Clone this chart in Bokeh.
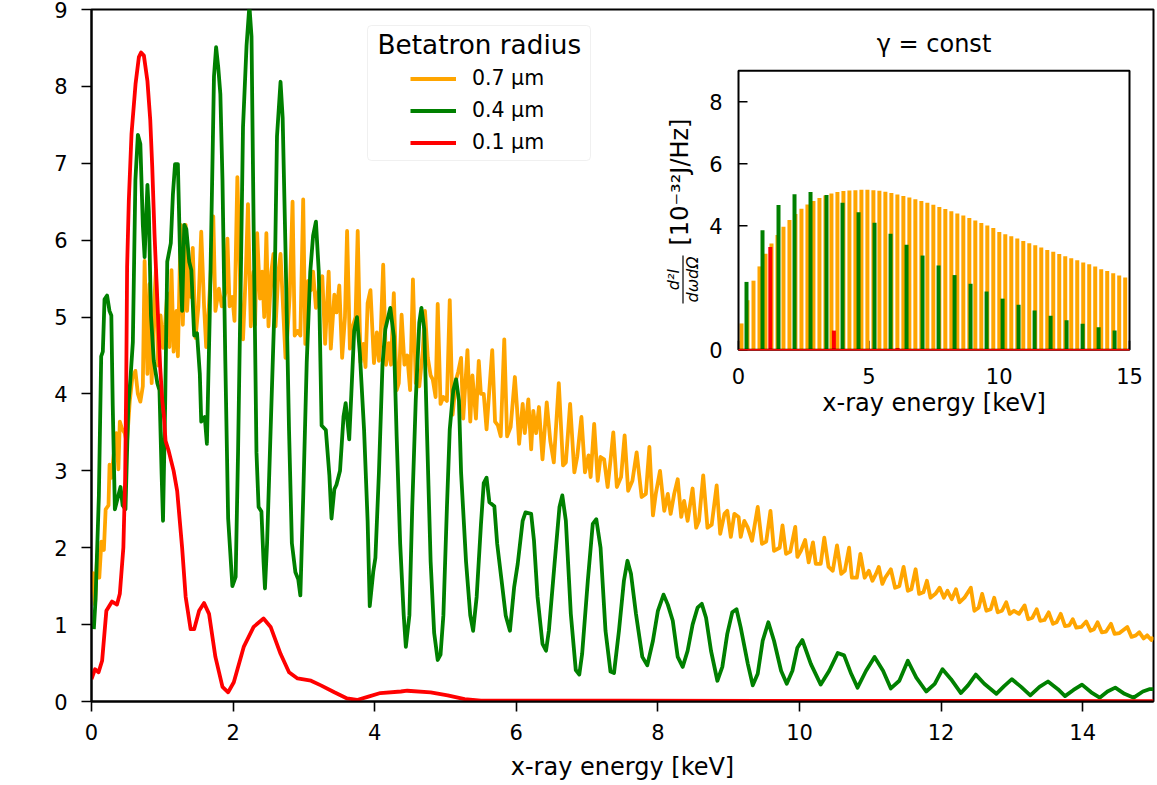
from math import pi
from bokeh.plotting import figure
from bokeh.models import (Range1d, FixedTicker, Label, Legend, LegendItem,
                          BoxAnnotation, Arrow)
from bokeh.core.properties import value
from bokeh.embed import file_html
from bokeh.resources import INLINE

# ---------------- data ----------------
X_TICKS = [0, 2, 4, 6, 8, 10, 12, 14]
Y_TICKS = [0, 1, 2, 3, 4, 5, 6, 7, 8, 9]
INSET_X_TICKS = [0, 5, 10, 15]
INSET_Y_TICKS = [0, 4, 6, 8]
LEGEND_LABELS = ["0.7 µm", "0.4 µm", "0.1 µm"]

ORANGE_E = [0.00, 0.02, 0.05, 0.08, 0.11, 0.14, 0.175, 0.20, 0.24, 0.255, 0.28, 0.32, 0.35, 0.38, 0.40,
            0.43, 0.47, 0.50, 0.54, 0.575, 0.62, 0.655, 0.69, 0.725, 0.75, 0.79, 0.82, 0.85, 0.88, 0.91,
            0.94, 0.976, 1.01, 1.04, 1.07, 1.10, 1.13, 1.16, 1.20, 1.22, 1.26, 1.29, 1.33, 1.35, 1.39,
            1.41, 1.43, 1.47, 1.51, 1.55, 1.59, 1.62, 1.65, 1.68, 1.72, 1.75, 1.80, 1.84, 1.89, 1.92,
            1.95, 1.99, 2.02, 2.06, 2.11, 2.14, 2.18, 2.21, 2.25, 2.29, 2.31, 2.34, 2.38, 2.41, 2.44,
            2.47, 2.50, 2.54, 2.57, 2.60, 2.64, 2.67, 2.70, 2.74, 2.77, 2.80, 2.84, 2.87, 2.91, 2.95,
            2.99, 3.02, 3.06, 3.10, 3.13, 3.17, 3.21, 3.26, 3.30, 3.35, 3.38, 3.43, 3.46, 3.50, 3.54,
            3.58, 3.61, 3.65, 3.69, 3.73, 3.76, 3.80, 3.84, 3.87, 3.90, 3.94, 3.99, 4.03, 4.06, 4.08,
            4.12, 4.16, 4.20, 4.23, 4.27, 4.31, 4.34, 4.38, 4.42, 4.46, 4.50, 4.54, 4.58, 4.63, 4.68,
            4.71, 4.75, 4.79, 4.82, 4.86, 4.89, 4.93, 4.97, 5.02, 5.06, 5.10, 5.15, 5.18, 5.22, 5.25,
            5.31, 5.35, 5.38, 5.43, 5.47, 5.50, 5.54, 5.58, 5.63, 5.66, 5.70, 5.74, 5.78, 5.83, 5.87,
            5.92, 5.98, 6.01, 6.04, 6.09, 6.12, 6.17, 6.21, 6.24, 6.28, 6.32, 6.37, 6.43, 6.48, 6.53,
            6.60, 6.66, 6.70, 6.76, 6.82, 6.86, 6.92, 6.97, 7.02, 7.05, 7.10, 7.15, 7.19, 7.24, 7.29,
            7.33, 7.37, 7.42, 7.48, 7.53, 7.58, 7.64, 7.70, 7.77, 7.83, 7.88, 7.93, 7.97, 8.03, 8.09,
            8.14, 8.18, 8.23, 8.28, 8.33, 8.37, 8.42, 8.49, 8.54, 8.58, 8.64, 8.70, 8.76, 8.83, 8.88,
            8.94, 8.98, 9.03, 9.08, 9.14, 9.17, 9.22, 9.27, 9.33, 9.41, 9.47, 9.53, 9.59, 9.64, 9.72,
            9.76, 9.81, 9.87, 9.94, 9.97, 10.02, 10.08, 10.13, 10.19, 10.23, 10.30, 10.35, 10.41, 10.47,
            10.53, 10.59, 10.64, 10.70, 10.74, 10.81, 10.86, 10.92, 10.98, 11.03, 11.08, 11.12, 11.17,
            11.21, 11.29, 11.35, 11.41, 11.47, 11.53, 11.58, 11.64, 11.69, 11.75, 11.80, 11.85, 11.92,
            11.98, 12.04, 12.09, 12.15, 12.21, 12.26, 12.33, 12.42, 12.47, 12.53, 12.58, 12.64, 12.70,
            12.75, 12.80, 12.86, 12.92, 12.97, 13.03, 13.10, 13.18, 13.23, 13.29, 13.35, 13.40, 13.46,
            13.52, 13.58, 13.63, 13.69, 13.75, 13.81, 13.86, 13.91, 13.98, 14.05, 14.11, 14.16, 14.21,
            14.27, 14.33, 14.40, 14.45, 14.52, 14.63, 14.69, 14.75, 14.80, 14.86, 14.91, 14.97, 15.00]
ORANGE_V = [1.55, 1.67, 1.26, 1.91, 1.61, 2.08, 1.97, 2.50, 2.55, 3.08, 2.91, 3.26, 3.49, 3.02, 3.64,
            3.55, 3.49, 3.35, 3.90, 4.20, 4.30, 4.00, 3.90, 4.10, 5.73, 4.26, 5.43, 4.14, 5.08, 5.61,
            4.37, 5.02, 4.60, 4.90, 5.31, 4.61, 5.61, 4.55, 5.08, 4.49, 6.20, 4.90, 6.20, 5.08, 5.73,
            5.26, 5.90, 4.73, 5.14, 6.11, 5.14, 4.61, 5.02, 5.49, 6.31, 5.08, 5.37, 5.14, 5.31, 6.02,
            5.14, 5.26, 4.95, 6.82, 5.06, 4.71, 5.59, 6.47, 4.88, 5.59, 4.90, 6.09, 5.24, 5.59, 5.00,
            6.09, 4.88, 5.59, 5.82, 4.88, 5.59, 5.82, 5.24, 4.47, 4.82, 5.29, 6.50, 4.76, 4.82, 4.76,
            6.53, 4.65, 5.47, 5.35, 5.59, 5.12, 5.35, 5.53, 4.65, 5.59, 4.59, 5.29, 5.06, 5.41, 4.47,
            5.00, 6.12, 4.59, 4.88, 5.00, 6.12, 4.41, 4.65, 4.35, 5.18, 5.35, 4.40, 4.80, 4.43, 4.66,
            5.68, 4.38, 4.66, 4.38, 5.31, 4.05, 4.14, 5.03, 4.38, 4.50, 4.05, 5.49, 4.14, 4.10, 4.57,
            5.08, 4.47, 4.24, 4.19, 3.96, 5.17, 3.87, 3.96, 3.91, 5.22, 3.73, 4.19, 4.29, 4.47, 3.68,
            4.57, 3.64, 4.24, 3.68, 4.43, 4.00, 4.00, 3.54, 4.19, 4.57, 3.64, 3.59, 3.45, 4.71, 3.45,
            3.57, 4.22, 3.82, 3.35, 3.87, 3.49, 3.93, 3.28, 3.78, 3.49, 3.83, 3.15, 3.89, 3.39, 3.11,
            4.14, 3.07, 3.11, 3.87, 2.98, 3.18, 3.70, 2.98, 3.20, 2.92, 3.61, 2.87, 3.18, 3.15, 2.79,
            3.13, 3.50, 2.79, 2.92, 3.46, 2.74, 2.87, 3.24, 2.66, 2.70, 3.31, 2.42, 2.70, 3.00, 2.48,
            2.70, 2.44, 2.70, 2.89, 2.40, 2.61, 2.35, 2.77, 2.26, 2.35, 2.94, 2.26, 2.30, 2.81, 2.18,
            2.44, 2.48, 2.14, 2.44, 2.40, 2.14, 2.35, 2.26, 2.09, 2.53, 2.05, 2.08, 2.48, 1.96, 2.00,
            2.29, 1.92, 1.95, 2.27, 1.88, 1.96, 2.10, 1.81, 2.07, 1.79, 1.79, 2.13, 1.75, 1.70,
            2.03, 1.66, 1.70, 2.00, 1.61, 1.61, 1.92, 1.61, 1.70, 1.57, 1.66, 1.75, 1.53,
            1.61, 1.72, 1.48, 1.50, 1.75, 1.44, 1.46, 1.72, 1.40, 1.42, 1.57, 1.35, 1.40,
            1.48, 1.35, 1.44, 1.33, 1.46, 1.29, 1.35, 1.48, 1.18, 1.22, 1.40, 1.18, 1.20,
            1.35, 1.16, 1.18, 1.29, 1.14, 1.18, 1.14, 1.25, 1.07, 1.09, 1.20, 1.05, 1.06,
            1.16, 1.01, 1.03, 1.14, 0.98, 0.99, 1.07, 0.96, 0.97, 1.04, 0.92, 0.94, 1.03,
            0.90, 0.91, 1.01, 0.88, 0.89, 0.97, 0.84, 0.86, 0.90, 0.82, 0.86, 0.80, 0.84]

GREEN_E = [0.033, 0.057, 0.104, 0.137, 0.16, 0.184, 0.22, 0.254, 0.28, 0.30, 0.33, 0.36, 0.41, 0.44, 0.48,
           0.52, 0.55, 0.584, 0.62, 0.655, 0.69, 0.725, 0.75, 0.79, 0.81, 0.84, 0.88, 0.93, 0.96, 0.99,
           1.01, 1.04, 1.07, 1.12, 1.15, 1.18, 1.22, 1.25, 1.28, 1.31, 1.34, 1.38, 1.41, 1.45, 1.49,
           1.53, 1.55, 1.60, 1.63, 1.67, 1.71, 1.73, 1.76, 1.79, 1.82, 1.85, 1.89, 1.93, 1.99, 2.036,
           2.07, 2.11, 2.14, 2.19, 2.23, 2.26, 2.29, 2.33, 2.36, 2.40, 2.43, 2.45, 2.48, 2.52, 2.58,
           2.62, 2.67, 2.70, 2.74, 2.79, 2.83, 2.88, 2.92, 2.95, 2.99, 3.04, 3.09, 3.13, 3.17, 3.21,
           3.25, 3.31, 3.36, 3.39, 3.43, 3.46, 3.51, 3.56, 3.59, 3.64, 3.67, 3.71, 3.75, 3.79, 3.85,
           3.90, 3.93, 3.98, 4.01, 4.06, 4.11, 4.15, 4.22, 4.27, 4.31, 4.36, 4.41, 4.44, 4.49, 4.53,
           4.58, 4.63, 4.66, 4.70, 4.74, 4.79, 4.84, 4.89, 4.93, 4.97, 5.02, 5.06, 5.11, 5.15, 5.19,
           5.22, 5.29, 5.35, 5.39, 5.44, 5.50, 5.54, 5.58, 5.62, 5.69, 5.73, 5.79, 5.85, 5.91, 5.97,
           6.02, 6.09, 6.13, 6.21, 6.25, 6.30, 6.37, 6.42, 6.46, 6.54, 6.61, 6.65, 6.70, 6.77, 6.84,
           6.89, 6.93, 7.01, 7.08, 7.13, 7.19, 7.26, 7.33, 7.38, 7.45, 7.52, 7.57, 7.62, 7.69, 7.78,
           7.85, 7.93, 8.00, 8.08, 8.14, 8.21, 8.28, 8.35, 8.42, 8.49, 8.56, 8.62, 8.68, 8.75, 8.84,
           8.91, 8.98, 9.05, 9.11, 9.17, 9.27, 9.34, 9.41, 9.48, 9.56, 9.64, 9.74, 9.82, 9.90, 9.97,
           10.04, 10.16, 10.30, 10.42, 10.54, 10.63, 10.73, 10.82, 10.94, 11.06, 11.18, 11.29, 11.41,
           11.53, 11.65, 11.79, 11.91, 12.02, 12.14, 12.28, 12.38, 12.49, 12.61, 12.78, 12.89, 13.00,
           13.13, 13.26, 13.39, 13.51, 13.65, 13.75, 13.87, 13.99, 14.12, 14.24, 14.35, 14.46, 14.59,
           14.72, 14.85, 14.94, 15.00]
GREEN_V = [0.94, 1.32, 2.67, 4.49, 4.55, 5.23, 5.28, 5.08, 5.02, 3.85, 2.50, 2.61, 2.79, 2.55, 2.50,
           3.85, 4.20, 4.67, 6.78, 7.37, 7.25, 6.20, 5.78, 6.72, 6.37, 5.02, 4.43, 4.14, 4.05, 2.97,
           2.35, 3.85, 5.72, 5.96, 6.60, 6.99, 6.99, 5.84, 5.08, 6.20, 6.14, 5.72, 5.61, 4.76, 4.79,
           4.26, 3.64, 3.70, 3.35, 5.02, 7.08, 8.13, 8.51, 8.25, 7.90, 6.78, 4.43, 2.38, 1.50, 1.62,
           3.24, 5.59, 7.47, 8.53, 9.05, 8.65, 6.18, 3.24, 2.53, 2.47, 1.82, 1.47, 2.06, 3.24, 5.00,
           7.35, 8.06, 7.59, 5.88, 3.53, 2.06, 1.68, 1.59, 1.38, 2.65, 4.41, 5.59, 6.06, 6.24, 5.59,
           3.59, 3.53, 2.94, 2.38, 2.76, 2.82, 3.00, 3.71, 3.88, 3.41, 4.00, 4.82, 5.00, 4.53, 3.53,
           2.35, 1.24, 1.69, 1.87, 2.98, 4.38, 4.84, 5.12, 4.75, 3.45, 2.05, 1.12, 0.71, 1.12, 2.52,
           3.92, 4.93, 5.12, 4.84, 3.45, 1.82, 0.89, 0.54, 0.61, 1.12, 2.52, 3.54, 4.05, 4.19, 3.91,
           2.98, 1.82, 1.12, 0.92, 1.36, 2.29, 2.84, 2.91, 2.59, 2.54, 2.05, 1.59, 1.12, 0.92, 1.49,
           1.79, 2.35, 2.46, 2.44, 2.09, 1.36, 0.75, 0.66, 0.92, 1.79, 2.53, 2.68, 2.35, 1.14, 0.41,
           0.35, 0.62, 1.57, 2.31, 2.37, 2.00, 0.92, 0.39, 0.37, 0.92, 1.57, 1.83, 1.66, 1.14, 0.58,
           0.47, 0.79, 1.18, 1.39, 1.26, 1.05, 0.58, 0.45, 0.66, 1.00, 1.22, 1.27, 1.09, 0.66, 0.27,
           0.45, 0.88, 1.16, 1.20, 0.96, 0.49, 0.21, 0.36, 0.79, 1.03, 0.79, 0.40, 0.23, 0.40, 0.70,
           0.80, 0.49, 0.22, 0.40, 0.63, 0.60, 0.36, 0.18, 0.40, 0.58, 0.40, 0.17, 0.27,
           0.53, 0.31, 0.13, 0.23, 0.42, 0.29, 0.11, 0.21, 0.35, 0.23, 0.10, 0.20, 0.29,
           0.19, 0.08, 0.19, 0.26, 0.16, 0.07, 0.15, 0.22, 0.12, 0.05, 0.13, 0.18, 0.10,
           0.05, 0.13, 0.16, 0.16]

RED_E = [0.00, 0.05, 0.10, 0.15, 0.21, 0.29, 0.36, 0.40, 0.45, 0.475, 0.49, 0.503, 0.527, 0.565, 0.622,
         0.669, 0.70, 0.74, 0.79, 0.83, 0.858, 0.89, 0.93, 0.97, 1.00, 1.02, 1.046, 1.09, 1.16, 1.21,
         1.28, 1.33, 1.40, 1.45, 1.52, 1.59, 1.66, 1.75, 1.85, 1.93, 2.01, 2.15, 2.29, 2.43, 2.53,
         2.67, 2.79, 2.91, 3.10, 3.24, 3.43, 3.61, 3.75, 3.90, 4.08, 4.37, 4.46, 4.79, 5.03, 5.27,
         5.50, 7.50, 15.00]
RED_V = [0.29, 0.42, 0.38, 0.53, 1.18, 1.30, 1.26, 1.40, 2.00, 2.90, 4.10, 5.65, 6.51, 7.38, 8.03,
         8.38, 8.44, 8.40, 8.07, 7.56, 6.95, 6.08, 5.21, 4.35, 3.91, 3.74, 3.39, 3.26, 3.00, 2.74,
         2.00, 1.36, 0.94, 0.94, 1.18, 1.28, 1.14, 0.58, 0.19, 0.12, 0.25, 0.71, 0.97, 1.08, 0.97,
         0.62, 0.38, 0.30, 0.27, 0.21, 0.12, 0.04, 0.02, 0.06, 0.11, 0.13, 0.14, 0.12, 0.08, 0.03,
         0.01, 0.01, 0.005]

# inset (gamma = const): harmonic lines
ORANGE_STEM_E = [0.115, 0.345, 0.575, 0.805, 1.035, 1.265, 1.495, 1.725, 1.955, 2.185, 2.415, 2.645,
                 2.875, 3.105, 3.335, 3.565, 3.795, 4.025, 4.255, 4.485, 4.715, 4.945, 5.175, 5.405,
                 5.635, 5.865, 6.095, 6.325, 6.555, 6.785, 7.015, 7.245, 7.475, 7.705, 7.935, 8.165,
                 8.395, 8.625, 8.855, 9.085, 9.315, 9.545, 9.775, 10.005, 10.235, 10.465, 10.695,
                 10.925, 11.155, 11.385, 11.615, 11.845, 12.075, 12.305, 12.535, 12.765, 12.995,
                 13.225, 13.455, 13.685, 13.915, 14.145, 14.375, 14.605, 14.835]
ORANGE_STEM_V = [0.85, 1.60, 2.23, 2.69, 3.10, 3.43, 3.70, 3.97, 4.19, 4.38, 4.55, 4.69, 4.80, 4.90,
                 4.98, 5.04, 5.09, 5.12, 5.14, 5.15, 5.16, 5.16, 5.15, 5.13, 5.10, 5.06, 5.01, 4.96,
                 4.91, 4.86, 4.80, 4.74, 4.68, 4.61, 4.54, 4.47, 4.40, 4.33, 4.25, 4.17, 4.09, 4.01,
                 3.93, 3.80, 3.73, 3.66, 3.59, 3.51, 3.44, 3.37, 3.30, 3.22, 3.16, 3.09, 3.02, 2.95,
                 2.89, 2.82, 2.76, 2.69, 2.60, 2.54, 2.47, 2.40, 2.33]
GREEN_STEM_E = [0.307, 0.921, 1.535, 2.149, 2.763, 3.377, 3.991, 4.605, 5.219, 5.833, 6.447, 7.061,
                7.675, 8.289, 8.903, 9.517, 10.131, 10.745, 11.359, 11.973, 12.587, 13.201, 13.815,
                14.429]
GREEN_STEM_V = [2.19, 3.86, 4.67, 5.02, 5.09, 4.99, 4.74, 4.44, 4.10, 3.74, 3.39, 3.04, 2.72, 2.41,
                2.13, 1.88, 1.65, 1.45, 1.27, 1.10, 0.95, 0.84, 0.73, 0.62]
RED_STEM_E = [1.22, 3.66, 6.10]
RED_STEM_V = [3.32, 0.62, 0.06]

# ---------------- layout constants (pixels) ----------------
W, H = 1157, 785
FL, FR, FT, FB = 91, 1153, 9, 701          # main frame
IL, IR, IT, IB = 738, 1129, 70.3, 349.3    # inset axes box
ORANGE, GREEN, RED = "#FFA500", "#008000", "#FF0000"
FONT = "DejaVu Sans"
LW = 3.8
TICK_FS = "21px"

p = figure(width=W, height=H, x_range=Range1d(0, 15), y_range=Range1d(0, 9),
           output_backend="svg", toolbar_location=None,
           min_border_left=FL, min_border_right=W - FR,
           min_border_top=FT, min_border_bottom=H - FB)
p.background_fill_color = "white"
p.border_fill_color = "white"
p.xgrid.visible = False
p.ygrid.visible = False
p.outline_line_color = "black"
p.outline_line_width = 2

p.xaxis.ticker = FixedTicker(ticks=X_TICKS)
p.yaxis.ticker = FixedTicker(ticks=Y_TICKS)
p.axis.major_tick_out = 10
p.axis.major_tick_in = 0
p.axis.minor_tick_out = 0
p.axis.minor_tick_in = 0
p.axis.major_tick_line_width = 1.6
p.axis.axis_line_width = 2
p.axis.major_label_text_font = FONT
p.axis.major_label_text_font_size = TICK_FS
p.axis.major_label_text_color = "black"
p.axis.axis_label_text_font = FONT
p.axis.axis_label_text_font_size = "24px"
p.axis.axis_label_text_font_style = "normal"
p.axis.axis_label_text_color = "black"
p.xaxis.major_label_standoff = 12
p.yaxis.major_label_standoff = 14
p.xaxis.axis_label = "x-ray energy [keV]"
p.xaxis.axis_label_standoff = 10

# ---------------- main curves ----------------
r_or = p.line(ORANGE_E, ORANGE_V, line_color=ORANGE, line_width=LW, line_join="round")
r_gr = p.line(GREEN_E, GREEN_V, line_color=GREEN, line_width=LW, line_join="round")
r_rd = p.line(RED_E, RED_V, line_color=RED, line_width=LW, line_join="round")

# ---------------- helper for free text (screen px relative to the frame) ----------------
def lab(text, x, y, size="24px", angle=pi / 2, align="left", style="normal"):
    p.add_layout(Label(x=x, y=y, x_units="screen", y_units="screen", text=text, angle=angle,
                       text_align=align, text_baseline="middle", text_font=FONT,
                       text_font_size=size, text_font_style=style, text_color="black"))

# main y-axis label (composed: words, fraction, units)
lab("intensity", 24 - FL, FB - 502)
lab("d²I", 12.5 - FL, FB - 369, size="16px", align="center", style="italic")
lab("dωdΩ", 27.5 - FL, FB - 369, size="16px", align="center", style="italic")
p.add_layout(Arrow(end=None, x_start=21 - FL, y_start=FB - 394, x_end=21 - FL, y_end=FB - 344,
                   start_units="screen", end_units="screen", line_width=1.2, line_color="black"))
lab("[10⁻³²J/Hz]", 24 - FL, FB - 337)

# ---------------- legend ----------------
p.add_layout(BoxAnnotation(left=367 - FL, right=590 - FL, bottom=FB - 160, top=FB - 25,
                           left_units="screen", right_units="screen",
                           bottom_units="screen", top_units="screen",
                           fill_color="white", fill_alpha=0.8, line_color="#cccccc",
                           line_width=1, border_radius=4))
lab("Betatron radius", 377 - FL, FB - 44, size="26.3px", angle=0)
legend = Legend(items=[LegendItem(label=LEGEND_LABELS[0], renderers=[r_or]),
                       LegendItem(label=LEGEND_LABELS[1], renderers=[r_gr]),
                       LegendItem(label=LEGEND_LABELS[2], renderers=[r_rd])],
                location=(410 - FL, FB - 157.5), orientation="vertical",
                padding=0, margin=0, spacing=1, glyph_width=46, glyph_height=31,
                label_height=31, label_standoff=16, label_text_font=FONT,
                label_text_font_size="20.5px", label_text_color="black",
                border_line_alpha=0, background_fill_alpha=0)
p.add_layout(legend)

# ---------------- inset (own scales mapped onto the inset box) ----------------
kx = 15.0 / (IR - IL)
ky = 9.0 / (IB - IT)
p.extra_x_ranges = {"inset": Range1d(0 - (IL - FL) * kx, 15 + (FR - IR) * kx)}
p.extra_y_ranges = {"inset": Range1d(0 - (FB - IB) * ky, 9 + (IT - FT) * ky)}
ins = dict(x_range_name="inset", y_range_name="inset")

# inward ticks
p.segment(x0=INSET_X_TICKS, y0=[0] * 4, x1=INSET_X_TICKS, y1=[9 * ky] * 4,
          line_color="black", line_width=1.6, **ins)
p.segment(x0=[0] * 4, y0=INSET_Y_TICKS, x1=[9 * kx] * 4, y1=INSET_Y_TICKS,
          line_color="black", line_width=1.6, **ins)
# harmonic lines
p.segment(x0=ORANGE_STEM_E, y0=[0] * len(ORANGE_STEM_E), x1=ORANGE_STEM_E, y1=ORANGE_STEM_V,
          line_color=ORANGE, line_width=4, **ins)
p.segment(x0=GREEN_STEM_E, y0=[0] * len(GREEN_STEM_E), x1=GREEN_STEM_E, y1=GREEN_STEM_V,
          line_color=GREEN, line_width=4, **ins)
p.segment(x0=RED_STEM_E, y0=[0] * len(RED_STEM_E), x1=RED_STEM_E, y1=RED_STEM_V,
          line_color=RED, line_width=4, **ins)
# frame
p.quad(left=[0], right=[15], bottom=[0], top=[9], fill_color=None, line_color="black",
       line_width=2, **ins)
p.segment(x0=[0], y0=[0], x1=[15], y1=[0], line_color=RED, line_width=1.4, **ins)

# tick labels
p.text(x=INSET_X_TICKS, y=[0] * 4, text=[str(t) for t in INSET_X_TICKS], y_offset=26,
       text_align="center", text_baseline="middle", text_font=value(FONT),
       text_font_size=TICK_FS, text_color="black", **ins)
p.text(x=[0] * 4, y=INSET_Y_TICKS, text=[str(t) for t in INSET_Y_TICKS], x_offset=-16,
       y_offset=0, text_align="right", text_baseline="middle", text_font=value(FONT),
       text_font_size=TICK_FS, text_color="black", **ins)

# inset texts
lab("γ = const", (IL + IR) / 2 - FL, FB - 43, angle=0, align="center")
lab("x-ray energy [keV]", (IL + IR) / 2 - FL, FB - 402, angle=0, align="center")
lab("d²I", 672.5 - FL, FB - 279, size="16px", align="center", style="italic")
lab("dωdΩ", 692 - FL, FB - 279, size="16px", align="center", style="italic")
p.add_layout(Arrow(end=None, x_start=682.5 - FL, y_start=FB - 303, x_end=682.5 - FL, y_end=FB - 255,
                   start_units="screen", end_units="screen", line_width=1.2, line_color="black"))
lab("[10⁻³²J/Hz]", 679 - FL, FB - 245)

open("out.html", "w").write(file_html(p, INLINE))
